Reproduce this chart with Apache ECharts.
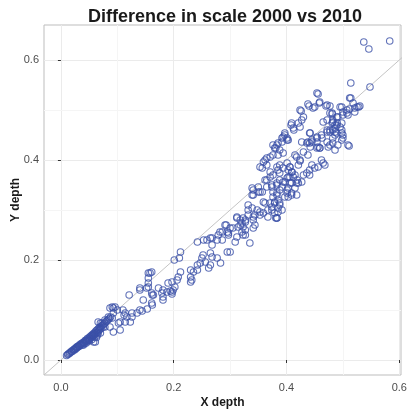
<!DOCTYPE html>
<html>
<head>
<meta charset="utf-8">
<script src="https://cdn.jsdelivr.net/npm/echarts@6/dist/echarts.min.js"></script>
<style>html,body{margin:0;padding:0;background:#fff}#c{width:407px;height:417px}</style>
</head>
<body>
<div id="c"></div>
<script>
const titleText = 'Difference in scale 2000 vs 2010';
const xName = 'X depth';
const yName = 'Y depth';
const majorTicks = [0, 0.2, 0.4, 0.6];
const minorTicks = [0.1, 0.3, 0.5];
const xRange = [-0.03, 0.603];
const yRange = [-0.03, 0.67];

const nearOrigin = [[0.010,0.009],[0.012,0.011],[0.013,0.012],[0.015,0.013],[0.016,0.015],[0.018,0.016],[0.019,0.018],[0.020,0.017],[0.022,0.020],[0.023,0.021],[0.024,0.020],[0.025,0.023],[0.026,0.022],[0.027,0.025],[0.028,0.024],[0.029,0.027],[0.030,0.026],[0.031,0.028],[0.032,0.027],[0.033,0.030],[0.034,0.029],[0.035,0.032],[0.036,0.031],[0.037,0.033],[0.038,0.030],[0.039,0.035],[0.040,0.034],[0.041,0.036],[0.042,0.033],[0.043,0.039],[0.044,0.037],[0.045,0.040],[0.046,0.038],[0.047,0.043],[0.048,0.041],[0.049,0.039],[0.050,0.045],[0.051,0.043],[0.052,0.047],[0.053,0.044],[0.054,0.049],[0.055,0.046],[0.056,0.051],[0.057,0.048],[0.058,0.053],[0.059,0.050],[0.060,0.055],[0.061,0.052],[0.062,0.058],[0.063,0.054],[0.064,0.060],[0.065,0.056],[0.066,0.062],[0.067,0.059],[0.068,0.065],[0.069,0.061],[0.070,0.066],[0.071,0.063],[0.072,0.068],[0.074,0.070],[0.075,0.066],[0.076,0.072],[0.078,0.074],[0.080,0.077],[0.082,0.079],[0.084,0.081],[0.086,0.083],[0.088,0.086],[0.040,0.030],[0.045,0.034],[0.050,0.038],[0.055,0.041],[0.060,0.046],[0.065,0.050],[0.070,0.054],[0.058,0.036],[0.063,0.045],[0.066,0.054],[0.061,0.036],[0.058,0.050]];

const lowBand = [[0.121,0.130],[0.140,0.140],[0.155,0.154],[0.162,0.130],[0.146,0.120],[0.162,0.110],[0.153,0.102],[0.144,0.098],[0.135,0.094],[0.126,0.086],[0.117,0.086],[0.114,0.076],[0.105,0.076],[0.093,0.056],[0.087,0.066],[0.093,0.104],[0.100,0.100],[0.110,0.100],[0.114,0.094],[0.093,0.094],[0.084,0.086],[0.102,0.074],[0.078,0.080],[0.073,0.074],[0.066,0.076],[0.078,0.066],[0.091,0.106],[0.155,0.174],[0.190,0.154],[0.197,0.136],[0.206,0.160],[0.179,0.134],[0.181,0.120],[0.161,0.114],[0.140,0.100],[0.126,0.094],[0.112,0.090],[0.123,0.076],[0.091,0.084],[0.087,0.104],[0.096,0.106],[0.105,0.060],[0.070,0.074]];

const midBand = [[0.312,0.286],[0.314,0.266],[0.293,0.270],[0.297,0.254],[0.286,0.256],[0.279,0.250],[0.286,0.240],[0.277,0.240],[0.268,0.244],[0.259,0.240],[0.268,0.230],[0.242,0.236],[0.295,0.216],[0.300,0.216],[0.265,0.214],[0.268,0.206],[0.252,0.210],[0.250,0.204],[0.277,0.204],[0.283,0.194],[0.256,0.196],[0.247,0.194],[0.265,0.190],[0.262,0.184],[0.242,0.190],[0.230,0.180],[0.242,0.180],[0.235,0.176],[0.212,0.216],[0.210,0.204],[0.201,0.200],[0.212,0.176],[0.208,0.166],[0.197,0.156],[0.230,0.166],[0.232,0.160],[0.230,0.156],[0.202,0.146],[0.199,0.140],[0.194,0.138],[0.188,0.136],[0.197,0.132],[0.181,0.140],[0.173,0.144],[0.164,0.130],[0.161,0.134],[0.155,0.146],[0.158,0.174],[0.161,0.176],[0.155,0.164],[0.152,0.144],[0.140,0.144],[0.181,0.126],[0.253,0.240],[0.265,0.244],[0.339,0.344],[0.350,0.336],[0.357,0.336],[0.341,0.330],[0.332,0.310],[0.362,0.314],[0.381,0.284],[0.341,0.286],[0.353,0.296],[0.321,0.256],[0.327,0.250],[0.309,0.236],[0.335,0.234],[0.318,0.270],[0.300,0.264],[0.291,0.270],[0.282,0.256],[0.327,0.280],[0.365,0.360]];

const denseBand = [[0.376,0.430],[0.385,0.434],[0.392,0.436],[0.403,0.440],[0.381,0.424],[0.388,0.420],[0.394,0.414],[0.385,0.410],[0.376,0.410],[0.371,0.406],[0.362,0.400],[0.365,0.390],[0.357,0.384],[0.415,0.410],[0.418,0.406],[0.401,0.394],[0.406,0.386],[0.394,0.384],[0.388,0.374],[0.409,0.376],[0.415,0.370],[0.403,0.366],[0.371,0.376],[0.371,0.366],[0.362,0.360],[0.388,0.360],[0.397,0.356],[0.409,0.354],[0.418,0.354],[0.383,0.350],[0.374,0.350],[0.365,0.346],[0.388,0.340],[0.401,0.340],[0.376,0.336],[0.383,0.330],[0.409,0.334],[0.418,0.330],[0.403,0.326],[0.350,0.346],[0.341,0.340],[0.353,0.336],[0.339,0.330],[0.359,0.316],[0.371,0.314],[0.379,0.316],[0.388,0.314],[0.374,0.306],[0.385,0.304],[0.367,0.300],[0.348,0.300],[0.339,0.304],[0.332,0.300],[0.359,0.294],[0.353,0.290],[0.383,0.284],[0.367,0.286],[0.344,0.290],[0.341,0.280],[0.332,0.290],[0.323,0.284],[0.318,0.280],[0.312,0.284],[0.327,0.276],[0.321,0.274],[0.323,0.266],[0.327,0.260],[0.344,0.270],[0.341,0.264],[0.305,0.264],[0.295,0.256],[0.297,0.250],[0.312,0.246],[0.323,0.250],[0.374,0.346],[0.392,0.346],[0.403,0.344],[0.415,0.344],[0.401,0.334],[0.409,0.330],[0.397,0.326],[0.383,0.334],[0.376,0.326],[0.385,0.320],[0.379,0.314],[0.388,0.310],[0.392,0.300],[0.385,0.296],[0.379,0.294],[0.383,0.284],[0.374,0.300],[0.406,0.386],[0.388,0.390],[0.383,0.386],[0.385,0.380],[0.376,0.370],[0.403,0.380],[0.410,0.376],[0.406,0.366],[0.412,0.366],[0.401,0.364],[0.406,0.354],[0.394,0.356],[0.383,0.354]];

const highBand = [[0.427,0.436],[0.441,0.434],[0.445,0.440],[0.459,0.424],[0.454,0.424],[0.474,0.426],[0.482,0.434],[0.486,0.420],[0.430,0.416],[0.438,0.410],[0.424,0.400],[0.462,0.400],[0.468,0.390],[0.465,0.394],[0.456,0.386],[0.450,0.384],[0.445,0.390],[0.441,0.380],[0.436,0.374],[0.441,0.370],[0.430,0.370],[0.427,0.356],[0.421,0.354],[0.419,0.360],[0.421,0.390],[0.424,0.398],[0.456,0.532],[0.458,0.514],[0.470,0.508],[0.477,0.508],[0.438,0.512],[0.440,0.508],[0.447,0.504],[0.426,0.498],[0.430,0.486],[0.427,0.480],[0.421,0.474],[0.408,0.470],[0.413,0.460],[0.424,0.466],[0.481,0.492],[0.472,0.480],[0.465,0.476],[0.482,0.480],[0.489,0.486],[0.441,0.454],[0.481,0.474],[0.482,0.460],[0.472,0.460],[0.477,0.456],[0.462,0.450],[0.454,0.446],[0.489,0.470],[0.489,0.454],[0.397,0.450],[0.401,0.444],[0.392,0.444],[0.383,0.430],[0.445,0.436],[0.436,0.434],[0.454,0.436],[0.463,0.444],[0.482,0.444],[0.491,0.430],[0.353,0.386],[0.359,0.396],[0.365,0.404],[0.379,0.424],[0.394,0.446],[0.397,0.454],[0.401,0.440],[0.409,0.474],[0.412,0.464],[0.424,0.500],[0.450,0.506],[0.454,0.534],[0.459,0.516],[0.472,0.510],[0.481,0.494],[0.495,0.506],[0.512,0.524],[0.518,0.514],[0.525,0.506],[0.530,0.508],[0.521,0.496],[0.512,0.502],[0.507,0.494],[0.500,0.496],[0.454,0.444],[0.459,0.424],[0.472,0.436],[0.498,0.440],[0.509,0.430],[0.477,0.460],[0.486,0.456],[0.498,0.454],[0.495,0.466],[0.498,0.474],[0.490,0.474],[0.482,0.476],[0.472,0.456],[0.456,0.426],[0.442,0.454],[0.438,0.436],[0.442,0.426]];

const topBand = [[0.537,0.636],[0.583,0.638],[0.546,0.622],[0.514,0.554],[0.548,0.546],[0.514,0.524],[0.528,0.506],[0.521,0.504],[0.507,0.500],[0.498,0.506],[0.509,0.490],[0.500,0.490],[0.491,0.486],[0.477,0.494],[0.486,0.470],[0.486,0.464],[0.498,0.460],[0.500,0.450],[0.486,0.450],[0.500,0.444],[0.477,0.430],[0.511,0.428]];

const points = [].concat(nearOrigin, lowBand, midBand, denseBand, highBand, topBand);

const font = 'Liberation Sans, Arial, sans-serif';
const gridMark = [];
majorTicks.forEach(v => { gridMark.push({xAxis: v, lineStyle: {color: '#ebebeb', width: 1, type: 'solid'}}); gridMark.push({yAxis: v, lineStyle: {color: '#ebebeb', width: 1, type: 'solid'}}); });
minorTicks.forEach(v => { gridMark.push({xAxis: v, lineStyle: {color: '#f5f5f5', width: 1, type: 'solid'}}); gridMark.push({yAxis: v, lineStyle: {color: '#f5f5f5', width: 1, type: 'solid'}}); });

const chart = echarts.init(document.getElementById('c'), null, {renderer: 'canvas'});
const axisCommon = {
  type: 'value',
  nameLocation: 'middle',
  nameMoveOverlap: false,
  nameTextStyle: {fontFamily: font, fontSize: 12, fontWeight: 'bold', color: '#1a1a1a'},
  axisLine: {show: false},
  axisTick: {show: true, length: 3, customValues: majorTicks, lineStyle: {color: '#333333', width: 1}},
  axisLabel: {customValues: majorTicks, fontFamily: font, fontSize: 11, color: '#4d4d4d', formatter: v => v.toFixed(1)},
  splitLine: {show: false}
};
chart.setOption({
  animation: false,
  title: {text: titleText, left: 220, textAlign: 'center', top: 3, textStyle: {fontFamily: font, fontSize: 18, fontWeight: 'bold', color: '#1a1a1a'}},
  grid: {left: 44, right: 6, top: 25, bottom: 42, show: true, borderColor: '#bdbdbd', borderWidth: 1, backgroundColor: '#ffffff', outerBoundsMode: 'none', containLabel: false},
  xAxis: Object.assign({}, axisCommon, {min: xRange[0], max: xRange[1], name: xName, nameGap: 22,
    axisLabel: Object.assign({}, axisCommon.axisLabel, {margin: 7})}),
  yAxis: Object.assign({}, axisCommon, {min: yRange[0], max: yRange[1], name: yName, nameGap: 22,
    axisLabel: Object.assign({}, axisCommon.axisLabel, {margin: 5})}),
  series: [
    {type: 'line', data: [[xRange[0], xRange[0]], [yRange[1], yRange[1]]], symbol: 'none', silent: true, z: 1,
      lineStyle: {color: '#c4c4c4', width: 1}, clip: true,
      markLine: {silent: true, symbol: ['none', 'none'], label: {show: false}, data: gridMark, z: 0}},
    {type: 'scatter', data: points, symbol: 'circle', symbolSize: 6.5, z: 2,
      itemStyle: {color: 'rgba(0,0,0,0)', borderColor: '#3b50a8', borderWidth: 1.1}}
  ]
});
</script>
</body>
</html>
